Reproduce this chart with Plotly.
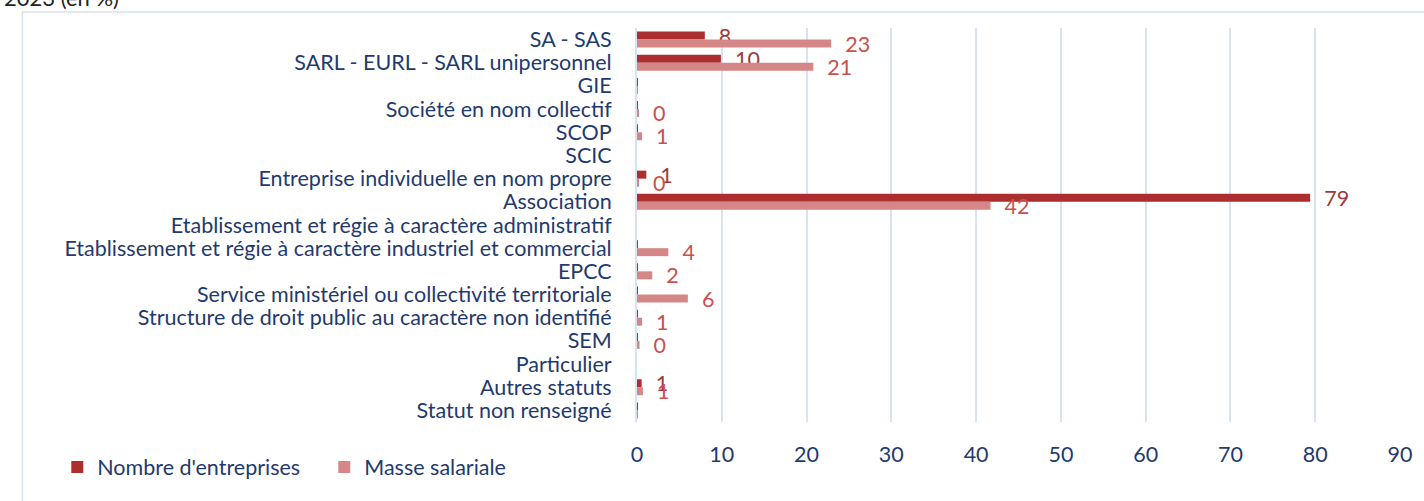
import plotly.graph_objects as go

categories = [
    "SA - SAS",
    "SARL - EURL - SARL unipersonnel",
    "GIE",
    "Société en nom collectif",
    "SCOP",
    "SCIC",
    "Entreprise individuelle en nom propre",
    "Association",
    "Etablissement et régie à caractère administratif",
    "Etablissement et régie à caractère industriel et commercial",
    "EPCC",
    "Service ministériel ou collectivité territoriale",
    "Structure de droit public au caractère non identifié",
    "SEM",
    "Particulier",
    "Autres statuts",
    "Statut non renseigné",
]
nombre_entreprises = [8.0, 9.9, 0.1, 0.1, 0.1, 0, 1.1, 79.4, 0, 0.1, 0.1, 0.1, 0.1, 0.05, 0, 0.55, 0.1]
masse_salariale = [22.9, 20.8, 0.05, 0.2, 0.6, 0, 0.2, 41.7, 0, 3.7, 1.8, 6.0, 0.6, 0.3, 0, 0.7, 0.1]
x_ticks = [0, 10, 20, 30, 40, 50, 60, 70, 80, 90]
title_text = "2023 (en %)"

W, H = 1424, 501
L, R, T, B = 637, 1424 - 1403, 28, 501 - 422
pw, ph = W - L - R, H - T - B


def px_x(p):
    return (p - L) / pw


def px_y(p):
    return 1 - (p - T) / ph


def labels(vals):
    return ["  " + str(int(round(v + 1e-9))) if v >= 0.15 else "" for v in vals]


FONT = "Lato"
NAVY = "#1F3A6E"
FS = 21.5

fig = go.Figure()
fig.add_trace(go.Bar(
    name="Nombre d'entreprises",
    y=categories, x=nombre_entreprises, orientation="h",
    marker=dict(color="#AD2E2E", line=dict(width=0)),
    text=labels(nombre_entreprises), textposition="outside",
    textfont=dict(color="#A03A3A", size=FS, family=FONT),
    constraintext="none", cliponaxis=False,
))
fig.add_trace(go.Bar(
    name="Masse salariale",
    y=categories, x=masse_salariale, orientation="h",
    marker=dict(color="#D58787", line=dict(width=0)),
    text=labels(masse_salariale), textposition="outside",
    textfont=dict(color="#C9504D", size=FS, family=FONT),
    constraintext="none", cliponaxis=False,
))

fig.update_layout(
    width=W, height=H,
    margin=dict(l=L, r=R, t=T, b=B, pad=0),
    paper_bgcolor="white", plot_bgcolor="white",
    barmode="group", bargap=0.31, bargroupgap=0,
    font=dict(family=FONT, size=FS, color=NAVY),
    showlegend=True,
    legend=dict(
        orientation="h", x=px_x(55), y=px_y(467), xanchor="left", yanchor="middle",
        font=dict(size=FS, color=NAVY, family=FONT), itemwidth=30,
        entrywidth=222, entrywidthmode="pixels",
        bgcolor="rgba(0,0,0,0)", traceorder="normal",
    ),
    xaxis=dict(
        range=[0, 90], tickmode="array", tickvals=x_ticks, showgrid=True,
        gridcolor="#D7E2F2", gridwidth=2,
        zeroline=False, showline=False, ticks="", ticklabelstandoff=17,
        tickfont=dict(size=FS, color=NAVY, family=FONT),
    ),
    yaxis=dict(
        autorange="reversed", tickmode="array", tickvals=categories, ticktext=categories,
        showline=True, linecolor="#D7E2F2", linewidth=2,
        ticks="", ticklabelstandoff=19, showgrid=False,
        tickfont=dict(size=FS, color=NAVY, family=FONT),
    ),
    shapes=[dict(
        type="rect", xref="paper", yref="paper",
        x0=px_x(20), x1=px_x(1440), y0=px_y(12), y1=px_y(520),
        line=dict(color="#D9E1EE", width=1.5), fillcolor="rgba(0,0,0,0)", layer="below",
    )],
    annotations=[dict(
        text=title_text, xref="paper", yref="paper", x=px_x(0), y=px_y(-2),
        xanchor="left", yanchor="middle", showarrow=False,
        font=dict(size=22, color="#222222", family=FONT),
    )],
)

fig.write_html("out.html", config={"displayModeBar": False},
               post_script="document.body.style.margin='0px';")
